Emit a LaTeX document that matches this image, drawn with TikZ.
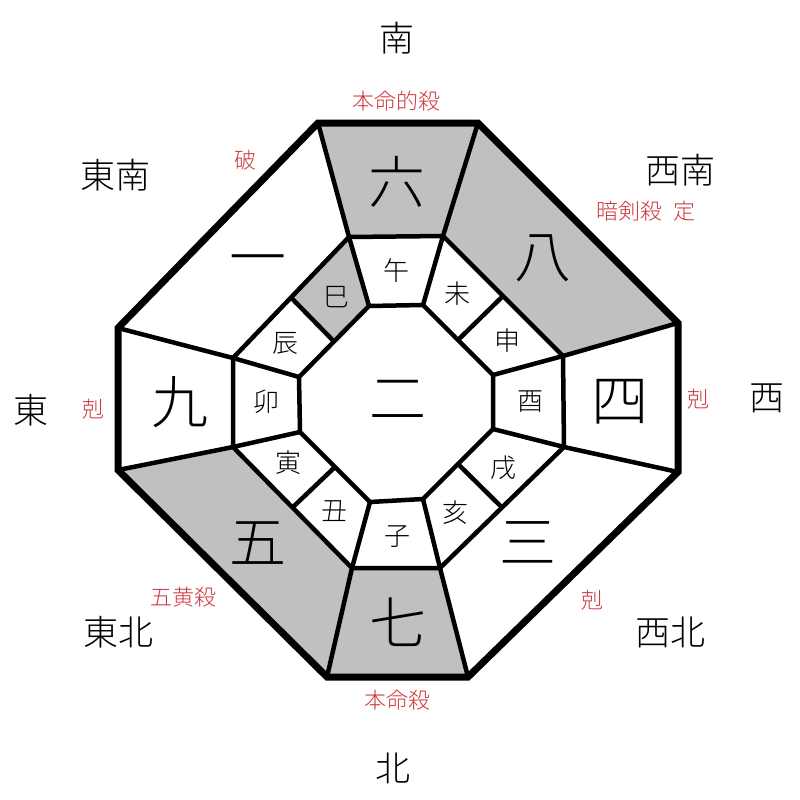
\documentclass[tikz,border=0pt]{standalone}
\usepackage{fontspec}
\setmainfont{Noto Sans CJK JP}[UprightFont=* Light]
\usetikzlibrary{calc}
\definecolor{cellgray}{RGB}{192,192,192}
\definecolor{shared}{RGB}{205,55,60}

\begin{document}
\begin{tikzpicture}[x=1pt, y=-1pt,
    dirlabel/.style={font=\fontsize{35}{35}\selectfont},
    redlabel/.style={text=shared, font=\fontsize{22}{22}\selectfont},
    starnum/.style={font=\fontsize{57}{57}\selectfont},
    zodiac/.style={font=\fontsize{26}{26}\selectfont},
    outerline/.style={line width=7pt, line join=miter},
    cellline/.style={line width=4.5pt, line join=miter}
]
    \useasboundingbox (0,0) rectangle (800,800);
    % outer octagon
    \coordinate (oTL) at (318,123);
    \coordinate (oTR) at (478,123);
    \coordinate (oRU) at (678,323);
    \coordinate (oRL) at (678,472);
    \coordinate (oBR) at (468,677);
    \coordinate (oBL) at (327,677);
    \coordinate (oLL) at (118,470);
    \coordinate (oLU) at (118,328);
    % middle octagon
    \coordinate (mTL) at (349,237);
    \coordinate (mTR) at (443,236);
    \coordinate (mRU) at (563,356);
    \coordinate (mRL) at (564,447);
    \coordinate (mBR) at (440,568);
    \coordinate (mBL) at (352,568);
    \coordinate (mLL) at (233,447);
    \coordinate (mLU) at (233,358);
    % inner octagon
    \coordinate (iTL) at (369,306);
    \coordinate (iTR) at (423,305);
    \coordinate (iRU) at (493,375);
    \coordinate (iRL) at (493,429);
    \coordinate (iBR) at (423,499);
    \coordinate (iBL) at (370,502);
    \coordinate (iLL) at (300,432);
    \coordinate (iLU) at (299,377);
    % split points of the diagonal zodiac cells
    \coordinate (mNW) at ($(mTL)!0.5!(mLU)$);
    \coordinate (iNW) at ($(iTL)!0.5!(iLU)$);
    \coordinate (mNE) at ($(mTR)!0.5!(mRU)$);
    \coordinate (iNE) at ($(iTR)!0.5!(iRU)$);
    \coordinate (mSE) at ($(mRL)!0.5!(mBR)$);
    \coordinate (iSE) at ($(iRL)!0.5!(iBR)$);
    \coordinate (mSW) at ($(mBL)!0.5!(mLL)$);
    \coordinate (iSW) at ($(iBL)!0.5!(iLL)$);

    % shaded cells
    \fill[cellgray] (oTL) -- (oTR) -- (mTR) -- (mTL) -- cycle;
    \fill[cellgray] (oTR) -- (oRU) -- (mRU) -- (mTR) -- cycle;
    \fill[cellgray] (oBR) -- (oBL) -- (mBL) -- (mBR) -- cycle;
    \fill[cellgray] (oBL) -- (oLL) -- (mLL) -- (mBL) -- cycle;
    \fill[cellgray] (mTL) -- (iTL) -- (iNW) -- (mNW) -- cycle;

    % grid lines
    \draw[cellline] (mTL) -- (mTR) -- (mRU) -- (mRL) -- (mBR) -- (mBL) -- (mLL) -- (mLU) -- cycle;
    \draw[cellline] (iTL) -- (iTR) -- (iRU) -- (iRL) -- (iBR) -- (iBL) -- (iLL) -- (iLU) -- cycle;
    \draw[cellline] (oTL) -- (mTL) -- (iTL);
    \draw[cellline] (oTR) -- (mTR) -- (iTR);
    \draw[cellline] (oRU) -- (mRU) -- (iRU);
    \draw[cellline] (oRL) -- (mRL) -- (iRL);
    \draw[cellline] (oBR) -- (mBR) -- (iBR);
    \draw[cellline] (oBL) -- (mBL) -- (iBL);
    \draw[cellline] (oLL) -- (mLL) -- (iLL);
    \draw[cellline] (oLU) -- (mLU) -- (iLU);
    \draw[cellline] (mNW) -- (iNW);
    \draw[cellline] (mNE) -- (iNE);
    \draw[cellline] (mSE) -- (iSE);
    \draw[cellline] (mSW) -- (iSW);
    \draw[outerline] (oTL) -- (oTR) -- (oRU) -- (oRL) -- (oBR) -- (oBL) -- (oLL) -- (oLU) -- cycle;

    % directions
    \node[dirlabel] (south) at (397,38) {南};
    \node[dirlabel] (southeast) at (115,175) {東南};
    \node[dirlabel] (southwest) at (680,170) {西南};
    \node[dirlabel] (east) at (31,410) {東};
    \node[dirlabel] (west) at (767,398) {西};
    \node[dirlabel] (northeast) at (118,632) {東北};
    \node[dirlabel] (northwest) at (670,632) {西北};
    \node[dirlabel] (north) at (393,768) {北};

    % red notes
    \node[redlabel] (noteS) at (396,101) {本命的殺};
    \node[redlabel] (noteSE) at (245,160) {破};
    \node[redlabel] (noteSW) at (646,211) {暗剣殺\hspace{0.5em}定};
    \node[redlabel] (noteE) at (93,409) {剋};
    \node[redlabel] (noteW) at (698,399) {剋};
    \node[redlabel] (noteNE) at (183,597) {五黄殺};
    \node[redlabel] (noteNW) at (592,600) {剋};
    \node[redlabel] (noteN) at (397,700) {本命殺};

    % stars
    \node[starnum] (s6) at (397,182) {六};
    \node[starnum] (s8) at (543,258) {八};
    \node[starnum] (s4) at (620,402) {四};
    \node[starnum] (s3) at (528,543) {三};
    \node[starnum] (s7) at (398,622) {七};
    \node[starnum] (s5) at (258,543) {五};
    \node[starnum] (s9) at (180,402) {九};
    \node[starnum] (s1) at (258,267) {一};
    \node[starnum] (s2) at (398,400) {二};

    % zodiac
    \node[zodiac] (uma) at (396,271) {午};
    \node[zodiac] (hitsuji) at (457,294) {未};
    \node[zodiac] (saru) at (507,341) {申};
    \node[zodiac] (tori) at (530,402) {酉};
    \node[zodiac] (inu) at (503,468) {戌};
    \node[zodiac] (i) at (455,513) {亥};
    \node[zodiac] (ne) at (397,537) {子};
    \node[zodiac] (ushi) at (334,511) {丑};
    \node[zodiac] (tora) at (288,463) {寅};
    \node[zodiac] (u) at (266,402) {卯};
    \node[zodiac] (tatsu) at (285,343) {辰};
    \node[zodiac] (mi) at (336,297) {巳};
\end{tikzpicture}
\end{document}
